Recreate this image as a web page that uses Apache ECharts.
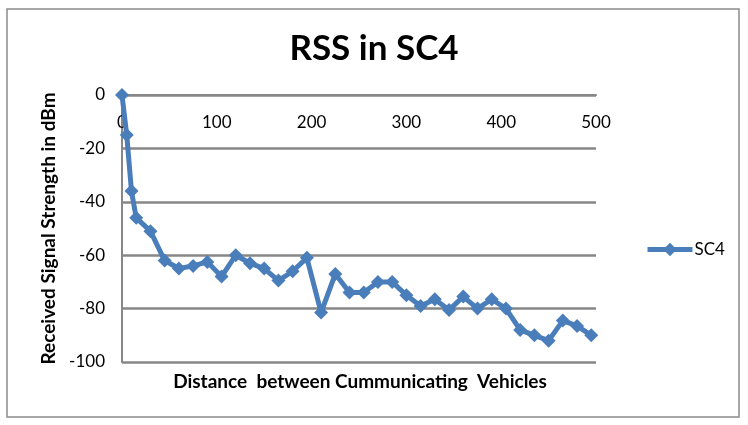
<!DOCTYPE html>
<html>
<head>
<meta charset="utf-8">
<script src="https://cdn.jsdelivr.net/npm/echarts@6/dist/echarts.min.js"></script>
<style>
  html, body { margin: 0; padding: 0; background: #fff; }
  #chart { width: 748px; height: 425px; }
</style>
</head>
<body>
<div id="chart"></div>
<script>
// distance (x) and RSS in dBm (y)
var distances = [0, 5, 10, 15, 30, 45, 60, 75, 90, 105, 120, 135, 150, 165, 180, 195, 210, 225,
                 240, 255, 270, 285, 300, 315, 330, 345, 360, 375, 390, 405, 420, 435, 450, 465, 480, 495];
var rssSC4 = [0, -15, -36, -46, -51, -62, -65, -64, -62.5, -68, -60, -63, -65, -69.5, -66, -61, -81.5, -67,
              -74, -74, -70, -70, -75, -79, -76.5, -80.5, -75.5, -80, -76.5, -80, -88, -90, -92, -84.5, -86.5, -90];
var seriesName = 'SC4';
var xTicks = [0, 100, 200, 300, 400, 500];
var yTicks = [-100, -80, -60, -40, -20, 0];

var points = [];
for (var i = 0; i < distances.length; i++) {
    points.push([distances[i], rssSC4[i]]);
}

var font = 'Lato';
var gridGray = '#878787';
var blue = '#4a7ebb';

var myChart = echarts.init(document.getElementById('chart'));
var options = {
    animation: false,
    backgroundColor: '#fff',
    textStyle: { fontFamily: font },
    title: {
        text: 'RSS in SC4',
        left: 'center',
        top: 26,
        textStyle: { fontFamily: font, fontSize: 35, fontWeight: 'bold', color: '#000' }
    },
    legend: {
        left: 640,
        top: 236,
        itemWidth: 45,
        itemHeight: 17,
        itemGap: 4,
        lineStyle: { width: 5 },
        textStyle: { fontFamily: font, fontSize: 17, color: '#000', padding: [0, 0, 0, -3] },
        data: [seriesName]
    },
    grid: { left: 122, top: 95, width: 474, height: 267 },
    xAxis: {
        type: 'value',
        position: 'top',
        min: xTicks[0],
        max: xTicks[xTicks.length - 1],
        interval: 100,
        axisLine: { lineStyle: { color: gridGray, width: 2 } },
        axisTick: { show: false },
        axisLabel: { inside: true, fontFamily: font, fontSize: 17, color: '#000', margin: 19 },
        splitLine: { show: false }
    },
    yAxis: {
        type: 'value',
        min: yTicks[0],
        max: yTicks[yTicks.length - 1],
        interval: 20,
        name: 'Received Signal Strength in dBm',
        nameLocation: 'middle',
        nameGap: 64,
        nameTextStyle: { fontFamily: font, fontSize: 19, fontWeight: 'bold', color: '#000' },
        axisLine: { show: true, lineStyle: { color: gridGray, width: 2 } },
        axisTick: { show: false },
        axisLabel: { fontFamily: font, fontSize: 17, color: '#000', margin: 17 },
        splitLine: { lineStyle: { color: gridGray, width: 2.5 } }
    },
    graphic: [
        {
            type: 'rect',
            shape: { x: 7, y: 9, width: 732, height: 408 },
            style: { fill: 'none', stroke: '#8c8c8c', lineWidth: 1.5 },
            silent: true
        },
        {
            type: 'text',
            x: 360,
            y: 382,
            style: {
                text: 'Distance  between Cummunicating  Vehicles',
                fontFamily: font,
                fontSize: 19,
                fontWeight: 'bold',
                fill: '#000',
                align: 'center',
                verticalAlign: 'middle'
            }
        }
    ],
    series: [
        {
            name: seriesName,
            type: 'line',
            data: points,
            symbol: 'diamond',
            symbolSize: 14,
            lineStyle: { color: blue, width: 5 },
            itemStyle: { color: blue }
        }
    ]
};
myChart.setOption(options);
</script>
</body>
</html>
